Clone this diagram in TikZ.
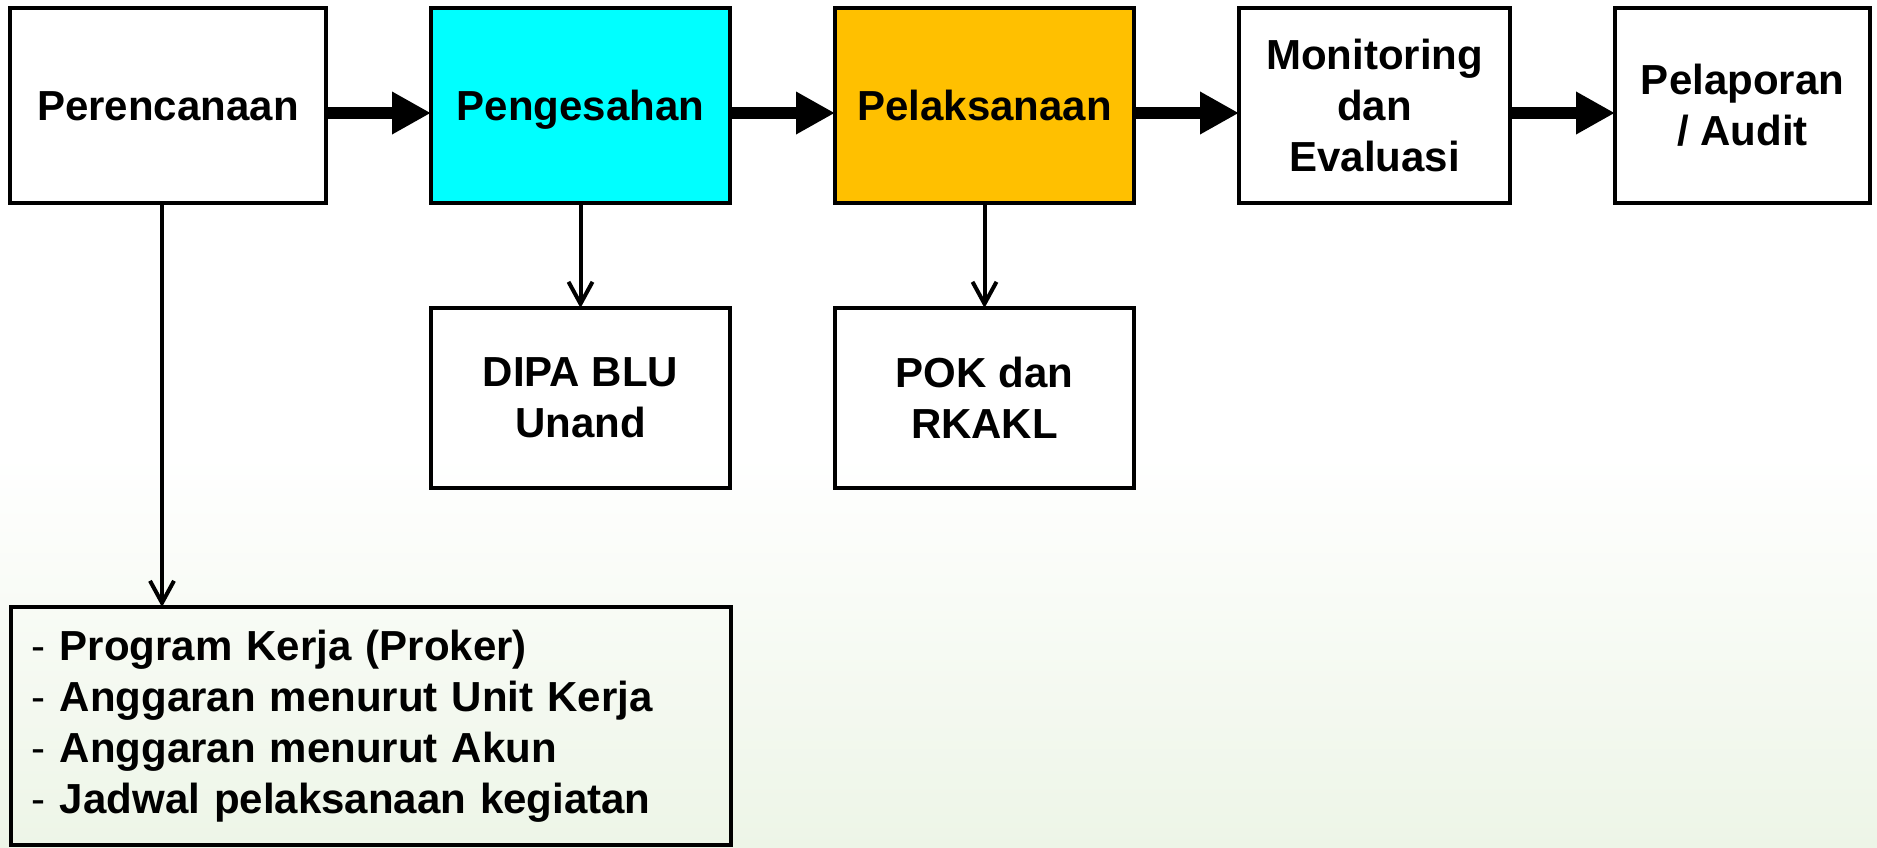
\documentclass[tikz,border=0pt]{standalone}
\usepackage{fontspec}
\setmainfont{Liberation Sans}
\usetikzlibrary{positioning,arrows.meta}
\definecolor{sahcyan}{HTML}{00FFFF}
\definecolor{laksorange}{HTML}{FFC000}
\definecolor{bgfade}{HTML}{EDF5E7}
\begin{document}
\begin{tikzpicture}[x=.5pt,y=-.5pt,
    font=\fontsize{21}{25.5}\selectfont\bfseries,
    box/.style={draw, line width=2.3pt, align=center, inner sep=0pt, outer sep=0pt, minimum height=97.5pt},
    oneline/.style={text height=17.5pt, text depth=2.5pt},
    bigarrow/.style={line width=6pt, -{Triangle[length=19.5pt,width=20pt]}},
    thinarrow/.style={line width=2pt, -{Straight Barb[length=11pt,width=12pt]}}]
  \useasboundingbox (0,0) rectangle (1877,847);
  \fill[white] (0,0) rectangle (1877,455);
  \shade[top color=white, bottom color=bgfade] (0,455) rectangle (1877,847);
  \node[box, oneline, minimum width=158pt] (plan) at (168,105.5) {Perencanaan};
  \node[box, oneline, fill=sahcyan, minimum width=149.5pt, right=52.5pt of plan] (sah) {Pengesahan};
  \node[box, oneline, fill=laksorange, minimum width=149.5pt, right=52.5pt of sah] (laks) {Pelaksanaan};
  \node[box, minimum width=135.5pt, right=52.5pt of laks] (monev) {Monitoring\\dan\\Evaluasi};
  \node[box, minimum width=127.5pt, right=52.5pt of monev] (lapor) {Pelaporan\\/ Audit};
  \node[box, minimum width=149.5pt, minimum height=90pt, below=52.5pt of sah] (dipa) {DIPA BLU\\Unand};
  \node[box, minimum width=149.5pt, minimum height=90pt, below=52.5pt of laks] (pok) {POK dan\\RKAKL};
  \node[box, minimum width=360pt, minimum height=119pt, text width=339pt, align=left] (list) at (371,726)
    {{\mdseries -} Program Kerja (Proker)\\{\mdseries -} Anggaran menurut Unit Kerja\\
     {\mdseries -} Anggaran menurut Akun\\{\mdseries -} Jadwal pelaksanaan kegiatan};
  \coordinate (ay) at (0,113);
  \draw[bigarrow] (plan.east |- ay) -- (sah.west |- ay);
  \draw[bigarrow] (sah.east |- ay) -- (laks.west |- ay);
  \draw[bigarrow] (laks.east |- ay) -- (monev.west |- ay);
  \draw[bigarrow] (monev.east |- ay) -- (lapor.west |- ay);
  \draw[thinarrow] ([xshift=-3pt]plan.south) -- ([xshift=-3pt]plan.south |- list.north);
  \draw[thinarrow] (sah) -- (dipa);
  \draw[thinarrow] (laks) -- (pok);
\end{tikzpicture}
\end{document}
